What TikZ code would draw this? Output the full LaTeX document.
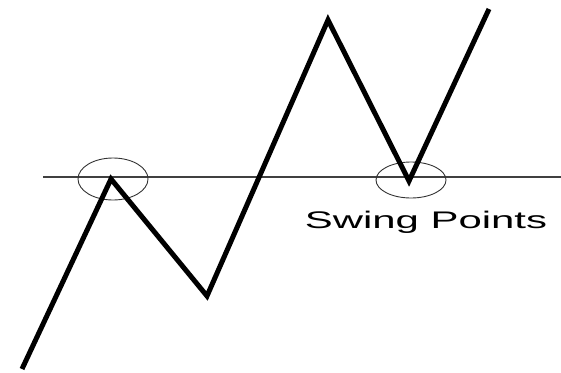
\documentclass[tikz,border=0pt]{standalone}
\usepackage{fontspec}
\setmainfont{Liberation Sans}
\begin{document}
\begin{tikzpicture}[x=1pt,y=-1pt,
  zig/.style={line width=5pt,line join=miter,black},
  level/.style={line width=1.1pt,black!75},
  swingmark/.style={line width=0.9pt,black!80},
  lbl/.style={inner sep=0pt,anchor=base,font=\fontsize{24}{24}\selectfont}]
\useasboundingbox (0,0) rectangle (561,372);
\coordinate (p0) at (22,369);
\coordinate (p1) at (111,179);
\coordinate (p2) at (207,296);
\coordinate (p3) at (328,20);
\coordinate (p4) at (409,181);
\coordinate (p5) at (489,9);
\coordinate (l0) at (43,177);
\coordinate (l1) at (561,177);
\draw[level] (l0) -- (l1);
\draw[swingmark] (113,179) ellipse [x radius=35, y radius=21];
\draw[swingmark] (411,180) ellipse [x radius=35, y radius=18];
\draw[zig] (p0) -- (p1) -- (p2) -- (p3) -- (p4) -- (p5);
\node[lbl] (swing) at (426,228) {\scalebox{1.745}[1]{Swing Points}};
\end{tikzpicture}
\end{document}
